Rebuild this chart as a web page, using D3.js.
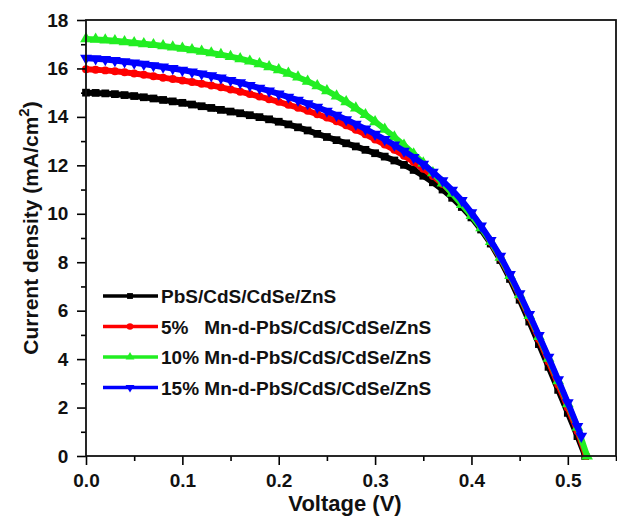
<!DOCTYPE html>
<html>
<head>
<meta charset="utf-8">
<script src="https://cdn.jsdelivr.net/npm/d3@7"></script>
<style>
  body { margin: 0; background: #fff; }
  svg { display: block; font-family: "Liberation Sans", Arial, sans-serif; font-weight: bold; }
</style>
</head>
<body>
<svg id="chart" width="617" height="519"></svg>
<script>
// voltage grid shared by all four curves (V)
const voltage = [0.00, 0.01, 0.02, 0.03, 0.04, 0.05, 0.06, 0.07, 0.08, 0.09,
  0.10, 0.11, 0.12, 0.13, 0.14, 0.15, 0.16, 0.17, 0.18, 0.19,
  0.20, 0.21, 0.22, 0.23, 0.24, 0.25, 0.26, 0.27, 0.28, 0.29,
  0.30, 0.31, 0.32, 0.33, 0.34, 0.35, 0.36, 0.37, 0.38, 0.39,
  0.40, 0.41, 0.42, 0.43, 0.44, 0.45, 0.46, 0.47, 0.48, 0.49,
  0.50, 0.51];

// current density (mA/cm2)
const jBare = [15.00, 14.99, 14.97, 14.94, 14.90, 14.86, 14.81, 14.76, 14.70, 14.64,
  14.58, 14.51, 14.44, 14.37, 14.29, 14.22, 14.15, 14.07, 13.99, 13.90,
  13.80, 13.69, 13.57, 13.44, 13.30, 13.17, 13.04, 12.91, 12.78, 12.64,
  12.50, 12.36, 12.20, 12.02, 11.81, 11.57, 11.30, 11.00, 10.66, 10.28,
  9.85, 9.35, 8.77, 8.09, 7.31, 6.45, 5.55, 4.62, 3.68, 2.73,
  1.78, 0.82];
const jMn5 = [15.97, 15.95, 15.92, 15.88, 15.84, 15.79, 15.74, 15.68, 15.62, 15.56,
  15.50, 15.44, 15.37, 15.30, 15.22, 15.13, 15.04, 14.94, 14.84, 14.73,
  14.62, 14.50, 14.38, 14.25, 14.11, 13.97, 13.82, 13.65, 13.47, 13.28,
  13.07, 12.86, 12.64, 12.40, 12.14, 11.86, 11.56, 11.23, 10.87, 10.47,
  10.02, 9.47, 8.83, 8.17, 7.42, 6.60, 5.73, 4.83, 3.90, 2.95,
  2.00, 1.03];
const jMn10 = [17.22, 17.20, 17.17, 17.14, 17.10, 17.06, 17.02, 16.98, 16.93, 16.88,
  16.83, 16.77, 16.71, 16.64, 16.57, 16.49, 16.40, 16.30, 16.19, 16.07,
  15.94, 15.80, 15.64, 15.47, 15.28, 15.08, 14.86, 14.62, 14.36, 14.09,
  13.80, 13.49, 13.17, 12.83, 12.47, 12.09, 11.69, 11.27, 10.84, 10.38,
  9.92, 9.42, 8.85, 8.20, 7.45, 6.65, 5.80, 4.93, 4.03, 3.10,
  2.15, 1.18];
const jMn15 = [16.42, 16.40, 16.37, 16.33, 16.28, 16.23, 16.18, 16.12, 16.06, 16.00,
  15.93, 15.86, 15.78, 15.70, 15.61, 15.51, 15.41, 15.30, 15.19, 15.07,
  14.95, 14.82, 14.69, 14.55, 14.40, 14.24, 14.07, 13.89, 13.70, 13.50,
  13.29, 13.07, 12.84, 12.59, 12.33, 12.05, 11.72, 11.37, 10.98, 10.55,
  10.05, 9.50, 8.90, 8.25, 7.50, 6.70, 5.85, 4.98, 4.08, 3.15,
  2.20, 1.22];

// last measured point of each curve (near Voc)
const endV = [0.518, 0.519, 0.520, 0.514];
const endJ = [0.00, 0.00, 0.00, 0.82];

const seriesNames = ["PbS/CdS/CdSe/ZnS", "5%   Mn-d-PbS/CdS/CdSe/ZnS",
  "10% Mn-d-PbS/CdS/CdSe/ZnS", "15% Mn-d-PbS/CdS/CdSe/ZnS"];
const seriesColors = ["#000000", "#ff0000", "#22ee22", "#0000ff"];
const seriesSymbols = [d3.symbolSquare, d3.symbolCircle, d3.symbolTriangle, d3.symbolTriangle];
const seriesValues = [jBare, jMn5, jMn10, jMn15];

const xMajor = [0.0, 0.1, 0.2, 0.3, 0.4, 0.5];
const xMinor = [0.05, 0.15, 0.25, 0.35, 0.45, 0.55];
const yMajor = [0, 2, 4, 6, 8, 10, 12, 14, 16, 18];
const yMinor = [1, 3, 5, 7, 9, 11, 13, 15, 17];

const svg = d3.select("#chart");
const plot = { left: 86, right: 616, top: 20, bottom: 456 };

const x = d3.scaleLinear().domain([0, 0.55]).range([plot.left, plot.right]);
const y = d3.scaleLinear().domain([0, 18]).range([plot.bottom, plot.top]);

// curves
const line = d3.line().x(d => x(d.v)).y(d => y(d.j));

seriesValues.forEach((vals, i) => {
    const pts = voltage.map((v, k) => ({ v: v, j: vals[k] }));
    pts.push({ v: endV[i], j: endJ[i] });

    const g = svg.append("g");
    g.append("path")
        .datum(pts)
        .attr("fill", "none")
        .attr("stroke", seriesColors[i])
        .attr("stroke-width", 6)
        .attr("d", line);

    const sym = d3.symbol().type(seriesSymbols[i]).size(i == 1 ? 50 : 60);
    g.selectAll("path.m")
        .data(pts)
        .join("path")
        .attr("class", "m")
        .attr("fill", seriesColors[i])
        .attr("d", sym)
        .attr("transform", d => `translate(${x(d.v)},${y(d.j)})` + (i == 3 ? " rotate(180)" : ""));
});

// axes
const axisX = svg.append("g").attr("transform", `translate(0,${plot.bottom})`);
axisX.call(d3.axisBottom(x).tickValues(xMajor).tickSize(9).tickFormat(d3.format(".1f")));
axisX.append("g").call(d3.axisBottom(x).tickValues(xMinor).tickSize(5).tickFormat(""));

const axisY = svg.append("g").attr("transform", `translate(${plot.left},0)`);
axisY.call(d3.axisLeft(y).tickValues(yMajor).tickSize(9));
axisY.append("g").call(d3.axisLeft(y).tickValues(yMinor).tickSize(5).tickFormat(""));

svg.selectAll(".domain").remove();
svg.selectAll(".tick line").attr("stroke", "#000").attr("stroke-width", 1.6);
svg.selectAll(".tick text")
    .attr("fill", "#111")
    .style("font-size", "19px")
    .style("font-weight", "bold")
    .style("font-family", "'Liberation Sans', Arial, sans-serif");
axisX.selectAll(".tick text").attr("dy", "1.0em");
axisY.selectAll(".tick text").attr("dx", "-0.3em");

// frame
svg.append("rect")
    .attr("x", plot.left).attr("y", plot.top)
    .attr("width", plot.right - plot.left).attr("height", plot.bottom - plot.top)
    .attr("fill", "none")
    .attr("stroke", "#111")
    .attr("stroke-width", 1.8);

// axis titles
svg.append("text")
    .attr("x", 345).attr("y", 511)
    .attr("text-anchor", "middle")
    .attr("font-size", 22)
    .attr("fill", "#111")
    .text("Voltage (V)");

const yt = svg.append("text")
    .attr("transform", "translate(38,228) rotate(-90)")
    .attr("text-anchor", "middle")
    .attr("font-size", 21)
    .attr("fill", "#111");
yt.append("tspan").text("Current density (mA/cm");
yt.append("tspan").attr("dy", -9).attr("font-size", 15).text("2");
yt.append("tspan").attr("dy", 9).text(")");

// legend
const legend = svg.append("g");
seriesNames.forEach((name, i) => {
    const ly = 296 + i * 30.5;
    legend.append("line")
        .attr("x1", 103).attr("x2", 158)
        .attr("y1", ly).attr("y2", ly)
        .attr("stroke", seriesColors[i])
        .attr("stroke-width", 3.5);
    legend.append("path")
        .attr("d", d3.symbol().type(seriesSymbols[i]).size(34))
        .attr("fill", seriesColors[i])
        .attr("transform", `translate(130,${ly})` + (i == 3 ? " rotate(180)" : ""));
    legend.append("text")
        .attr("x", 161).attr("y", ly + 7)
        .attr("font-size", 19)
        .attr("fill", "#111")
        .style("white-space", "pre")
        .text(name);
});
</script>
</body>
</html>
